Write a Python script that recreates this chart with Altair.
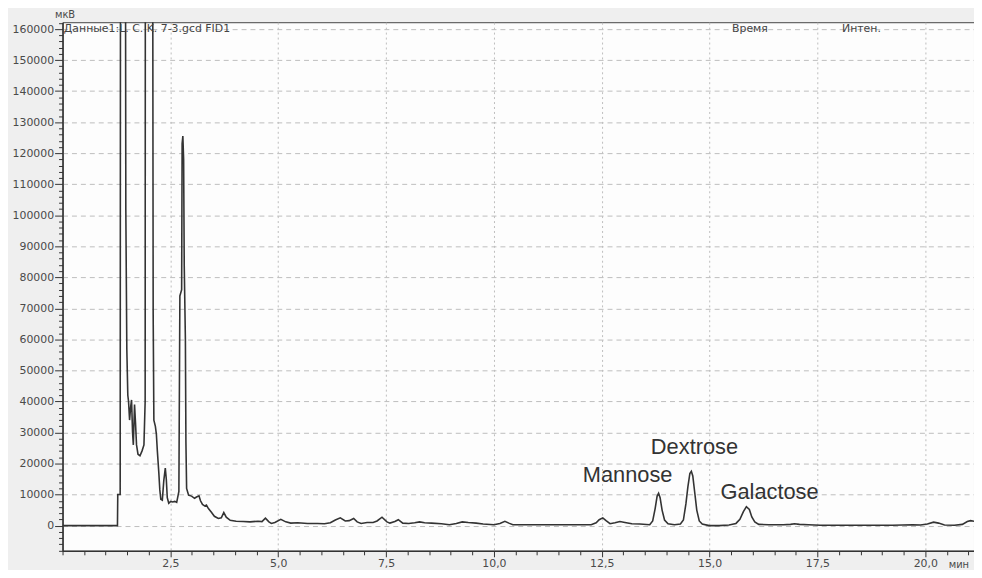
import altair as alt
import pandas as pd

# chromatogram trace (time in min, signal in µV); off-scale peaks given large values and clipped
time_min = [0.0, 1.273, 1.28, 1.336, 1.352, 1.439, 1.467, 1.49, 1.513, 1.53, 1.554, 1.577, 1.60,
            1.623, 1.641, 1.669, 1.692, 1.715, 1.749, 1.795, 1.841, 1.887, 1.915, 1.926, 2.071,
            2.101, 2.117, 2.152, 2.175, 2.198, 2.232, 2.255, 2.278, 2.313, 2.347, 2.382, 2.405,
            2.428, 2.462, 2.508, 2.554, 2.600, 2.646, 2.697, 2.72, 2.761, 2.772, 2.789, 2.807,
            2.821, 2.848, 2.86, 2.876, 2.922, 2.991, 3.06, 3.106, 3.163, 3.198, 3.244, 3.301,
            3.336, 3.382, 3.451, 3.52, 3.611, 3.68, 3.738, 3.795, 3.887, 4.025, 4.186, 4.347,
            4.531, 4.623, 4.703, 4.784, 4.841, 4.922, 5.06, 5.175, 5.29, 5.451, 5.681, 5.911,
            6.071, 6.209, 6.324, 6.439, 6.554, 6.646, 6.749, 6.83, 6.922, 7.06, 7.2, 7.291,
            7.406, 7.52, 7.589, 7.704, 7.784, 7.887, 8.025, 8.163, 8.278, 8.393, 8.554, 8.784,
            8.968, 9.129, 9.267, 9.405, 9.589, 9.75, 10.0, 10.14, 10.255, 10.347, 10.439,
            10.968, 11.657, 12.255, 12.37, 12.441, 12.524, 12.6, 12.692, 12.807, 12.922, 13.037,
            13.198, 13.382, 13.612, 13.681, 13.738, 13.784, 13.818, 13.853, 13.899, 13.956,
            14.037, 14.186, 14.324, 14.393, 14.451, 14.497, 14.543, 14.577, 14.611, 14.657,
            14.703, 14.761, 14.83, 14.991, 15.221, 15.451, 15.612, 15.703, 15.784, 15.853,
            15.922, 15.979, 16.048, 16.14, 16.37, 16.715, 16.876, 16.968, 17.083, 17.29,
            17.566, 18.095, 18.784, 19.244, 19.706, 19.89, 20.05, 20.193, 20.308, 20.446,
            20.676, 20.86, 20.975, 21.05, 21.13]
signal_uv = [0, 0, 10000, 10000, 400000, 400000, 101700, 56800, 42000, 40000, 34000, 38000, 40500,
             30000, 26000, 39000, 33000, 26000, 23000, 22500, 24000, 26000, 40000, 400000, 400000,
             68000, 34000, 32000, 29500, 24000, 17000, 11500, 8500, 8200, 14500, 18500, 15000,
             9000, 7200, 7800, 7600, 7800, 7500, 11000, 74000, 76000, 123000, 125500, 118000,
             84000, 60000, 27000, 12000, 9800, 9500, 8800, 9200, 9600, 8000, 6800, 6300,
             6600, 5500, 4300, 3000, 2300, 2500, 4200, 2700, 1700, 1400, 1300, 1200,
             1400, 1300, 2400, 1200, 700, 1000, 2000, 1200, 800, 900, 700, 700,
             600, 900, 1800, 2500, 1500, 1600, 2300, 1200, 700, 1000, 1000, 1500,
             2700, 1200, 800, 1300, 1900, 800, 700, 900, 1200, 900, 800, 600,
             300, 700, 1200, 1000, 800, 500, 300, 700, 1400, 800, 300,
             300, 300, 300, 900, 1900, 2500, 1600, 600, 900, 1300, 1000,
             600, 500, 300, 1500, 5500, 9500, 10400, 9000, 5000, 1800,
             600, 300, 500, 1800, 7000, 12500, 16800, 17500, 16000, 10500,
             5000, 1500, 500, 0, 0, 200, 700, 2000, 4500, 6100,
             5200, 2800, 1200, 400, 300, 300, 400, 600, 400, 300,
             100, 100, 100, 100, 300, 200, 500, 1100, 800, 200,
             100, 400, 1300, 1600, 1400]

peak_names = ["Mannose", "Dextrose", "Galactose"]
peak_label_t = [13.1, 14.65, 16.39]
peak_label_v = [14090, 22950, 8700]

header_texts = ["Данные1:L. C. K. 7-3.gcd FID1", "Время", "Интен."]
header_t = [0.03, 15.52, 18.07]
header_v = [160000, 160000, 160000]

y_tick_values = list(range(-8000, 162001, 2000))
x_tick_values = [i * 0.5 for i in range(0, 43)]

trace = pd.DataFrame({"t": time_min, "v": signal_uv})
peaks = pd.DataFrame({"name": peak_names, "t": peak_label_t, "v": peak_label_v})
header = pd.DataFrame({"txt": header_texts, "t": header_t, "v": header_v})

AX_FONT = "DejaVu Sans"
x_major = "datum.value % 2.5 === 0 && datum.value > 0"
y_major = "datum.value % 10000 === 0"

x_scale = alt.Scale(domain=[0, 21.13], nice=False, zero=False)
y_scale = alt.Scale(domain=[-8130, 162200], nice=False, zero=False)

x_axis = alt.Axis(
    values=x_tick_values, tickCount=500,
    labelExpr=f"{x_major} ? replace(format(datum.value, '.1f'), '.', ',') : ''",
    labelOverlap=False,
    labelFont=AX_FONT, labelFontSize=11, labelColor="#4a4a4a", labelPadding=1,
    tickSize={"condition": {"test": x_major, "value": 6}, "value": 4},
    tickColor="#333", domainColor="#333", domainWidth=1.5,
    grid=True, gridColor="#bdbdbd", gridDash=[2, 3],
    gridOpacity={"condition": {"test": x_major, "value": 1}, "value": 0},
    title="мин", titleFont=AX_FONT, titleFontSize=10, titleFontWeight="normal",
    titleColor="#4a4a4a", titleAlign="left", titleBaseline="middle",
    titleX=893, titleY=14, labelFlush=False,
)
y_axis = alt.Axis(
    values=y_tick_values, tickCount=500, format="d",
    labelExpr=f"{y_major} ? datum.label : ''",
    labelOverlap=False,
    labelFont=AX_FONT, labelFontSize=11, labelColor="#4a4a4a", labelPadding=1,
    tickSize={"condition": {"test": y_major, "value": 8}, "value": 4},
    tickColor="#333", domainColor="#333", domainWidth=1.5,
    grid=True, gridColor="#bdbdbd", gridDash=[5, 4],
    gridOpacity={"condition": {"test": y_major, "value": 1}, "value": 0},
    title="мкВ", titleFont=AX_FONT, titleFontSize=10, titleFontWeight="normal",
    titleColor="#4a4a4a", titleAngle=0, titleAlign="center", titleBaseline="bottom",
    titleX=2, titleY=-3, labelFlush=False,
)

line = alt.Chart(trace).mark_line(clip=True, color="#333333", strokeWidth=1.6).encode(
    x=alt.X("t:Q", scale=x_scale, axis=x_axis),
    y=alt.Y("v:Q", scale=y_scale, axis=y_axis),
)

peak_text = alt.Chart(peaks).mark_text(
    font="Liberation Sans", fontSize=22, color="#333333", align="center", baseline="alphabetic"
).encode(x=alt.X("t:Q", scale=x_scale), y=alt.Y("v:Q", scale=y_scale), text="name:N")

header_text = alt.Chart(header).mark_text(
    font=AX_FONT, fontSize=11, color="#444444", align="left", baseline="middle"
).encode(x=alt.X("t:Q", scale=x_scale), y=alt.Y("v:Q", scale=y_scale), text="txt:N")

chart = alt.layer(line, peak_text, header_text).properties(
    width=919, height=533,
    autosize=alt.AutoSizeParams(type="none"),
    padding={"left": 55, "top": 12, "right": 0, "bottom": 17},
    background="#efefef",
).configure_view(fill="#fdfdfd", stroke="#444444", strokeWidth=1)

chart.save("out.html", embed_options={"renderer": "svg", "actions": False})
